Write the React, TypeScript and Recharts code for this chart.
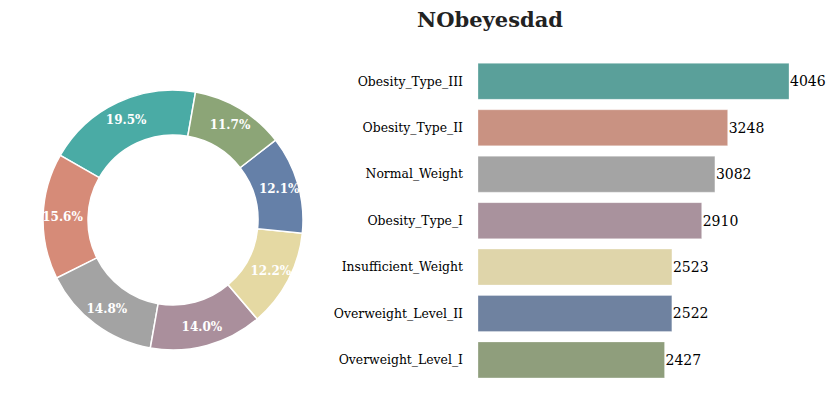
import { PieChart, Pie, Cell, BarChart, Bar, XAxis, YAxis, LabelList } from 'recharts'

const categories = [
  'Obesity_Type_III',
  'Obesity_Type_II',
  'Normal_Weight',
  'Obesity_Type_I',
  'Insufficient_Weight',
  'Overweight_Level_II',
  'Overweight_Level_I',
]
const counts = [4046, 3248, 3082, 2910, 2523, 2522, 2427]

const pieColors = ['#4aaba5', '#d68b78', '#a3a3a3', '#aa8f9c', '#e5d9a3', '#6580a8', '#8ca577']
const barColors = ['#5aa09a', '#c99282', '#a4a4a4', '#a9929d', '#dfd5aa', '#6f82a0', '#8f9e7c']

const FONT = '"DejaVu Serif", serif'
const RADIAN = Math.PI / 180

const data = categories.map((name, i) => ({ name, count: counts[i] }))

const renderPct = (props: any) => {
  const { cx, cy, midAngle, outerRadius, percent } = props
  const r = outerRadius * 0.85
  const x = cx + r * Math.cos(-midAngle * RADIAN)
  const y = cy + r * Math.sin(-midAngle * RADIAN)
  return (
    <text
      x={x}
      y={y}
      fill="white"
      textAnchor="middle"
      dominantBaseline="central"
      fontFamily={FONT}
      fontWeight="bold"
      fontSize={12}
    >
      {(percent * 100).toFixed(1)}%
    </text>
  )
}

export default function App() {
  return (
    <div style={{ position: 'absolute', left: 0, top: 0, width: 834, height: 393, background: 'white' }}>
      <div style={{ position: 'absolute', left: 0, top: 0 }}>
        <PieChart width={346} height={393} margin={{ top: 0, right: 0, bottom: 0, left: 0 }}>
          <Pie
            data={data}
            dataKey="count"
            nameKey="name"
            cx={173}
            cy={220}
            innerRadius={85}
            outerRadius={130}
            startAngle={80}
            endAngle={440}
            stroke="white"
            strokeWidth={1.5}
            label={renderPct}
            labelLine={false}
            isAnimationActive={false}
          >
            {data.map((d, i) => (
              <Cell key={d.name} fill={pieColors[i]} />
            ))}
          </Pie>
        </PieChart>
      </div>
      <div
        style={{
          position: 'absolute',
          left: 390,
          width: 200,
          top: 7,
          textAlign: 'center',
          fontFamily: FONT,
          fontWeight: 'bold',
          fontSize: 21,
          color: '#222',
        }}
      >
        NObeyesdad
      </div>
      <div style={{ position: 'absolute', left: 0, top: 0 }}>
        <BarChart
          width={834}
          height={393}
          data={data}
          layout="vertical"
          margin={{ top: 58, right: 45, bottom: 10, left: 328 }}
          barCategoryGap="11.5%"
        >
          <XAxis type="number" hide domain={[0, 4046]} />
          <YAxis
            type="category"
            dataKey="name"
            width={150}
            tickLine={false}
            axisLine={false}
            tickSize={0}
            tickMargin={15}
            tick={{ fontFamily: FONT, fontSize: 12.4, fill: '#000' }}
          />
          <Bar dataKey="count" isAnimationActive={false} stroke="#ffffff" strokeOpacity={0.3} strokeWidth={1}>
            {data.map((d, i) => (
              <Cell key={d.name} fill={barColors[i]} />
            ))}
            <LabelList
              dataKey="count"
              position="right"
              offset={1}
              style={{ fontFamily: FONT, fontSize: 14, fill: '#000' }}
            />
          </Bar>
        </BarChart>
      </div>
    </div>
  )
}
